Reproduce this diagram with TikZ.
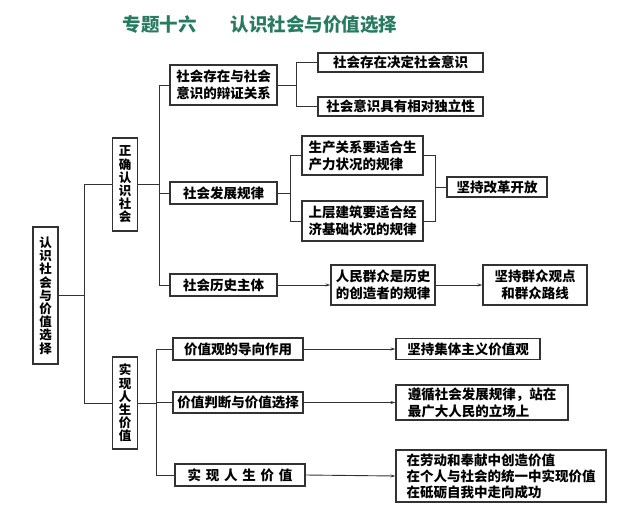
\documentclass[tikz,border=0pt]{standalone}
\usepackage{fontspec}
\setmainfont{Noto Sans CJK SC}
\usetikzlibrary{arrows.meta,positioning}
\definecolor{titlegreen}{RGB}{40,122,96}
\definecolor{linegray}{RGB}{50,50,50}

\begin{document}
\begin{tikzpicture}[x=1pt, y=-1pt]
  % Define styles
  \tikzstyle{block} = [rectangle, draw=linegray, line width=1.1pt, inner sep=2pt, font=\bfseries\fontsize{13.5}{17}\selectfont]
  \tikzstyle{vblock} = [block, align=center, minimum width=25pt, font=\bfseries\fontsize{12.5}{13.2}\selectfont]
  \tikzstyle{line} = [draw=linegray, line width=0.9pt]
  \tikzstyle{arrow} = [line, -{Stealth[length=5pt,width=3pt]}]

  \useasboundingbox (0,0) rectangle (640,506);

  % Title
  \node [text=titlegreen, font=\bfseries\fontsize{18.5}{20}\selectfont] (title) at (260,25) {专题十六\hspace{1.85em}认识社会与价值选择};

  % Place nodes
  \node [vblock, minimum height=137pt] (root) at (45.5,295.5) {认\\识\\社\\会\\与\\价\\值\\选\\择};
  \node [vblock, minimum height=93pt] (know) at (125,184.5) {正\\确\\认\\识\\社\\会};
  \node [vblock, minimum height=92pt] (live) at (125,403) {实\\现\\人\\生\\价\\值};

  \node [block, align=center, minimum width=107pt, minimum height=40pt] (being) at (223.5,85) {社会存在与社会\\意识的辩证关系};
  \node [block, minimum width=107pt, minimum height=22pt] (law) at (223.5,193) {社会发展规律};
  \node [block, minimum width=107pt, minimum height=22pt] (subject) at (223.5,285) {社会历史主体};

  \node [block, minimum width=165pt, minimum height=19pt] (decide) at (400.5,62.5) {社会存在决定社会意识};
  \node [block, minimum width=165pt, minimum height=19pt] (indep) at (400.5,106.5) {社会意识具有相对独立性};

  \node [block, align=left, minimum width=121pt, minimum height=39pt] (prod) at (362.5,155.5) {生产关系要适合生\\产力状况的规律};
  \node [block, align=left, minimum width=121pt, minimum height=40pt] (super) at (362.5,221) {上层建筑要适合经\\济基础状况的规律};
  \node [block, minimum width=100pt, minimum height=20pt] (reform) at (497,187) {坚持改革开放};

  \node [block, align=center, minimum width=104pt, minimum height=40pt] (people) at (383,285) {人民群众是历史\\的创造者的规律};
  \node [block, align=center, minimum width=104pt, minimum height=40pt] (mass) at (535,285) {坚持群众观点\\和群众路线};

  \node [block, minimum width=130pt, minimum height=22pt] (guide) at (238,349) {价值观的导向作用};
  \node [block, minimum width=130pt, minimum height=21pt] (judge) at (238,402.5) {价值判断与价值选择};
  \node [block, minimum width=130pt, minimum height=22pt] (realize) at (240,475) {实\hspace{0.35em}现\hspace{0.35em}人\hspace{0.35em}生\hspace{0.35em}价\hspace{0.35em}值};

  \node [block, minimum width=144pt, minimum height=21pt] (collect) at (468,349) {坚持集体主义价值观};
  \node [block, align=left, minimum width=172pt, minimum height=35pt] (follow) at (482,402.5) {遵循社会发展规律，站在\\最广大人民的立场上};
  \node [block, align=left, minimum width=210pt, minimum height=52pt, font=\bfseries\fontsize{13.5}{16}\selectfont] (create) at (501,476) {在劳动和奉献中创造价值\\在个人与社会的统一中实现价值\\在砥砺自我中走向成功};

  % Draw connectors
  \path [line] (root.east) -- ++(26,0) |- (know.west);
  \path [line] (root.east) -- ++(26,0) |- (live.west);

  \path [line] (know.east) -- ++(21,0) |- (being.west);
  \path [line] (know.east) -- ++(21,0) |- (law.west);
  \path [line] (know.east) -- ++(21,0) |- (subject.west);

  \path [line] (being.east) -- ++(19,0) |- (decide.west);
  \path [line] (being.east) -- ++(19,0) |- (indep.west);

  \path [line] (law.east) -- ++(13,0) |- (prod.west);
  \path [line] (law.east) -- ++(13,0) |- (super.west);
  \path [line] (prod.east) -- ++(12,0) |- (reform.west);
  \path [line] (super.east) -- ++(12,0) |- (reform.west);

  \path [arrow] (subject.east) -- (people.west);
  \path [arrow] (people.east) -- (mass.west);

  \path [line] (live.east) -- ++(18,0) |- (guide.west);
  \path [line] (live.east) -- ++(18,0) |- (judge.west);
  \path [line] (live.east) -- ++(18,0) |- (realize.west);

  \path [arrow] (guide.east) -- (collect.west);
  \path [arrow] (judge.east) -- (follow.west);
  \path [arrow] (realize.east) -- (create.west);
\end{tikzpicture}
\end{document}
